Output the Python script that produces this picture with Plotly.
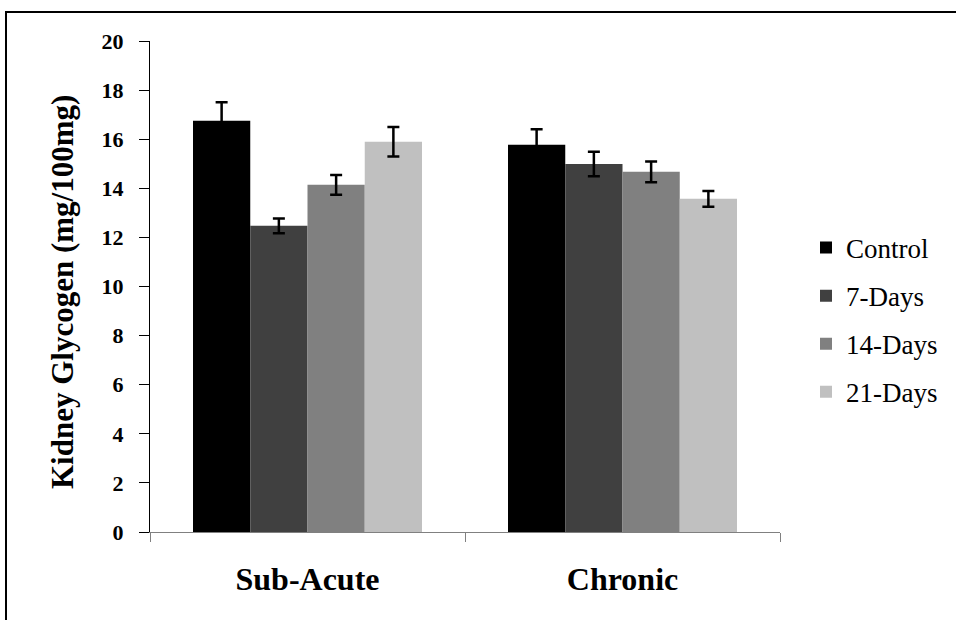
import plotly.graph_objects as go

categories = ["Sub-Acute", "Chronic"]
series_names = ["Control", "7-Days", "14-Days", "21-Days"]
control = [16.75, 15.77]
days7 = [12.47, 14.99]
days14 = [14.14, 14.67]
days21 = [15.9, 13.57]
err_control = [0.76, 0.64]
err_days7 = [0.3, 0.5]
err_days14 = [0.4, 0.42]
err_days21 = [0.6, 0.32]
y_ticks = [0, 2, 4, 6, 8, 10, 12, 14, 16, 18, 20]

colors = ["#000000", "#404040", "#808080", "#C0C0C0"]
values = [control, days7, days14, days21]
errors = [err_control, err_days7, err_days14, err_days21]

SERIF = "Liberation Serif, Times New Roman, serif"

fig = go.Figure()
for name, vals, errs, col in zip(series_names, values, errors, colors):
    fig.add_trace(go.Bar(
        name=name, x=categories, y=vals, marker=dict(color=col, line=dict(width=0)),
        error_y=dict(type="data", array=errs, visible=True, color="#000000", thickness=2.5, width=6),
        legendgroup=name,
    ))

L, R, T, B = 150, 176, 41, 88
W, H = 956, 620
pw = W - L - R
ph = H - T - B

fig.update_layout(
    width=W, height=H,
    margin=dict(l=L, r=R, t=T, b=B),
    paper_bgcolor="white", plot_bgcolor="white",
    barmode="group", bargap=0.273, bargroupgap=0,
    font=dict(family=SERIF, color="#000000"),
    showlegend=True,
    legend=dict(
        x=(806 - L) / pw, xanchor="left",
        y=(532 - 320) / ph, yanchor="middle",
        font=dict(family=SERIF, size=27, color="#000000"),
        tracegroupgap=10, bgcolor="rgba(0,0,0,0)",
    ),
    xaxis=dict(
        type="category", showline=True, linecolor="#808080", linewidth=1,
        ticks="outside", tickson="boundaries", ticklen=9, tickcolor="#808080",
        tickfont=dict(family=SERIF, size=32, color="#000000", weight="bold"),
        ticklabelstandoff=19, showgrid=False, zeroline=False,
    ),
    yaxis=dict(
        range=[0, 20], tickvals=y_ticks, showline=True, linecolor="#000000", linewidth=1,
        ticks="outside", ticklen=10, tickcolor="#000000",
        tickfont=dict(family=SERIF, size=22, color="#000000", weight="bold"),
        ticklabelstandoff=11, showgrid=False, zeroline=False,
    ),
    annotations=[dict(
        text="<b>Kidney Glycogen (mg/100mg)</b>", textangle=-90,
        xref="paper", yref="paper", x=(62 - L) / pw, y=(532 - 292) / ph,
        xanchor="center", yanchor="middle", showarrow=False,
        font=dict(family=SERIF, size=31, color="#000000"),
    )],
    shapes=[dict(
        type="rect", xref="paper", yref="paper",
        x0=(6 - L) / pw, x1=1.6, y0=-0.6, y1=(532 - 12) / ph,
        line=dict(color="#000000", width=2), fillcolor="rgba(0,0,0,0)",
    )],
)

fig.write_html(
    "out.html",
    config={"displayModeBar": False},
    post_script="document.body.style.margin='0';document.body.style.overflow='hidden';",
)
